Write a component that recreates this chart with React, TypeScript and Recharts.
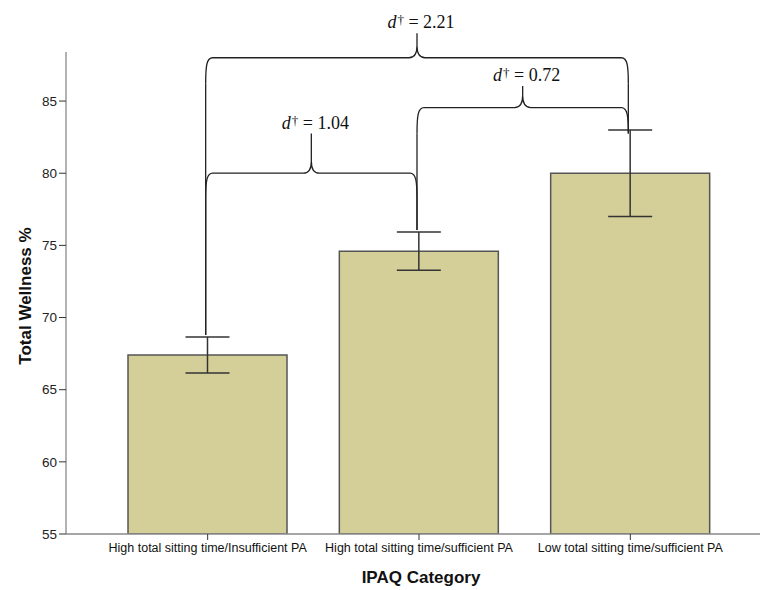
import { BarChart, Bar, XAxis, YAxis, ErrorBar, ReferenceLine, Label } from "recharts";

const categories = [
  "High total sitting time/Insufficient PA",
  "High total sitting time/sufficient PA",
  "Low total sitting time/sufficient PA",
];
const wellness = [67.4, 74.6, 80.0];
const wellnessErr = [1.25, 1.33, 3.0];
const yTicks = [55, 60, 65, 70, 75, 80, 85];

// effect-size braces: which two categories, height of the brace and of its tip (in % units)
const effectFrom = [0, 1, 0];
const effectTo = [1, 2, 2];
const effectD = ["1.04", "0.72", "2.21"];
const effectLevel = [80.0, 84.55, 88.0];
const effectTip = [82.75, 86.05, 89.7];

const data = categories.map((name, i) => ({ name, mean: wellness[i], err: wellnessErr[i] }));

const LINE = "#222";

function braceShape(d: string) {
  return (p: any) => {
    const xa = p.x1 - 2;
    const xb = p.x2 - 2;
    const y = p.y1;
    const ty = p.y2;
    const m = (xa + xb) / 2;
    const path =
      `M${xa},${y + 26} C${xa},${y + 8} ${xa + 1},${y} ${xa + 7},${y} L${m - 8},${y} ` +
      `C${m - 3},${y} ${m},${y - 3} ${m},${y - 12} L${m},${ty} ` +
      `M${m},${y - 12} C${m},${y - 3} ${m + 3},${y} ${m + 8},${y} L${xb - 7},${y} ` +
      `C${xb - 1},${y} ${xb},${y + 8} ${xb},${y + 26}`;
    return (
      <g>
        <path d={path} fill="none" stroke={LINE} strokeWidth={1.3} />
        <text
          x={m + 4}
          y={ty - 5}
          textAnchor="middle"
          fontFamily="'Liberation Serif', 'Times New Roman', serif"
          fontSize={18}
          fill="#111"
        >
          <tspan fontStyle="italic">d</tspan>
          <tspan dx={1} dy={-4} fontSize={13}>†</tspan>
          <tspan dy={4}>{` = ${d}`}</tspan>
        </text>
      </g>
    );
  };
}

// vertical leg from below the brace corner down to the error bar cap
function legShape(p: any) {
  return <line x1={p.x1 - 2} y1={p.y1 + 26} x2={p.x2 - 2} y2={p.y2 - 2} stroke={LINE} strokeWidth={1.3} />;
}

function YTitle(props: any) {
  const vb = props.viewBox;
  const cx = vb.x + 25;
  const cy = vb.y + vb.height / 2 + 3;
  return (
    <text
      x={cx}
      y={cy}
      transform={`rotate(-90 ${cx} ${cy})`}
      textAnchor="middle"
      dominantBaseline="central"
      fontFamily="'Liberation Sans', Arial, sans-serif"
      fontWeight="bold"
      fontSize={17}
      fill="#111"
    >
      Total Wellness %
    </text>
  );
}

function XTitle(props: any) {
  const vb = props.viewBox;
  return (
    <text
      x={vb.x + vb.width / 2 + 8}
      y={583}
      textAnchor="middle"
      fontFamily="'Liberation Sans', Arial, sans-serif"
      fontWeight="bold"
      fontSize={17}
      fill="#111"
    >
      IPAQ Category
    </text>
  );
}

export default function App() {
  const braces = effectD.map((d, i) => ({
    d,
    from: categories[effectFrom[i]],
    to: categories[effectTo[i]],
    level: effectLevel[i],
    tip: effectTip[i],
    fromTop: wellness[effectFrom[i]] + wellnessErr[effectFrom[i]],
    toTop: wellness[effectTo[i]] + wellnessErr[effectTo[i]],
  }));

  return (
    <div style={{ position: "absolute", left: 0, top: 0, background: "#fff" }}>
      <BarChart
        width={760}
        height={590}
        data={data}
        margin={{ top: 52, right: 0, bottom: 0, left: 0 }}
        barCategoryGap={26}
      >
        <XAxis
          dataKey="name"
          type="category"
          interval={0}
          height={56}
          padding={{ left: 36, right: 24 }}
          axisLine={{ stroke: "#888", strokeWidth: 1.3 }}
          tickLine={{ stroke: "#333" }}
          tickSize={6}
          tickMargin={3}
          tick={{ fill: "#111", fontSize: 12.5, fontFamily: "'Liberation Sans', Arial, sans-serif" }}
        >
          <Label content={XTitle} />
        </XAxis>
        <YAxis
          type="number"
          domain={[55, 88.4]}
          ticks={yTicks}
          allowDataOverflow
          width={66}
          axisLine={{ stroke: "#888", strokeWidth: 1.3 }}
          tickLine={{ stroke: "#333" }}
          tickSize={7}
          tickMargin={2}
          tick={{ fill: "#222", fontSize: 13.5, fontFamily: "'Liberation Sans', Arial, sans-serif" }}
        >
          <Label content={YTitle} />
        </YAxis>
        <Bar dataKey="mean" fill="#d4cf99" stroke="#555" strokeWidth={1.5} isAnimationActive={false}>
          <ErrorBar dataKey="err" width={22} stroke="#333" strokeWidth={1.5} direction="y" />
        </Bar>
        {braces.map((b) => (
          <ReferenceLine
            key={"l1" + b.d}
            ifOverflow="visible"
            segment={[{ x: b.from, y: b.level }, { x: b.from, y: b.fromTop }]}
            shape={legShape}
          />
        ))}
        {braces.map((b) => (
          <ReferenceLine
            key={"l2" + b.d}
            ifOverflow="visible"
            segment={[{ x: b.to, y: b.level }, { x: b.to, y: b.toTop }]}
            shape={legShape}
          />
        ))}
        {braces.map((b) => (
          <ReferenceLine
            key={"b" + b.d}
            ifOverflow="visible"
            segment={[{ x: b.from, y: b.level }, { x: b.to, y: b.tip }]}
            shape={braceShape(b.d)}
          />
        ))}
      </BarChart>
    </div>
  );
}
